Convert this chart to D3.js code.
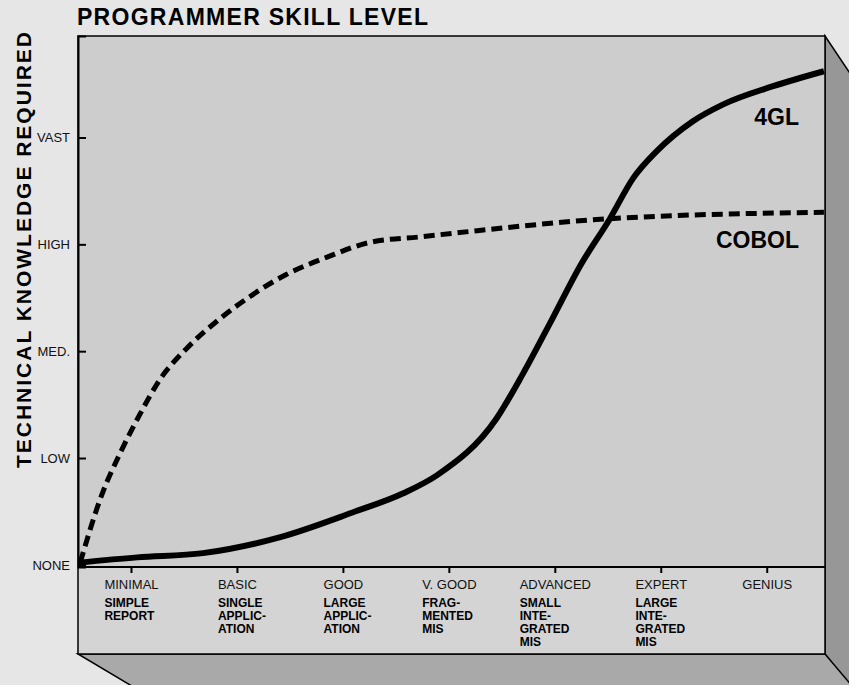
<!DOCTYPE html>
<html>
<head>
<meta charset="utf-8">
<script src="https://cdn.jsdelivr.net/npm/d3@7"></script>
<style>
  body { margin: 0; background: #e6e6e6; }
  svg { display: block; font-family: "Liberation Sans", Arial, sans-serif; }
</style>
</head>
<body>
<svg id="chart"></svg>
<script>
'use strict';

// skill levels along the bottom, with the kind of application under each
var skillLevels = ["MINIMAL", "BASIC", "GOOD", "V. GOOD", "ADVANCED", "EXPERT", "GENIUS"];
var appTypes = [
  ["SIMPLE", "REPORT"],
  ["SINGLE", "APPLIC-", "ATION"],
  ["LARGE", "APPLIC-", "ATION"],
  ["FRAG-", "MENTED", "MIS"],
  ["SMALL", "INTE-", "GRATED", "MIS"],
  ["LARGE", "INTE-", "GRATED", "MIS"],
  []
];
var knowledgeLevels = ["NONE", "LOW", "MED.", "HIGH", "VAST"];

// curves: [skill, knowledge], skill 1 = MINIMAL, knowledge 0 = NONE
var cobol = [
  [0.52, 0.02], [0.73, 0.67], [0.9, 1.05], [1.09, 1.42], [1.27, 1.73], [1.53, 2.03],
  [1.81, 2.28], [2.12, 2.51], [2.47, 2.72], [2.85, 2.88], [3.26, 3.02], [3.73, 3.07],
  [4.1, 3.11], [5.52, 3.24], [7.54, 3.3]
];
var fourGL = [
  [0.5, 0.02], [1.06, 0.07], [1.68, 0.11], [2.41, 0.26], [3.09, 0.49], [3.57, 0.67],
  [3.89, 0.84], [4.45, 1.37], [4.7, 1.79], [4.98, 2.31], [5.24, 2.8], [5.52, 3.24],
  [5.74, 3.62], [5.96, 3.87], [6.3, 4.15], [6.59, 4.31], [7.06, 4.48], [7.54, 4.62]
];

var width = 849,
    height = 685;

var boxLeft = 78, boxRight = 825, boxTop = 36, axisY = 567, bandBottom = 654;

var svg = d3.select("svg#chart")
    .attr("width", width)
    .attr("height", height);

var x = d3.scaleLinear().domain([0.5, 7.55]).range([boxLeft, boxRight]);
var y = d3.scaleLinear().domain([-0.02, 4.95]).range([axisY, boxTop]);

// 3d sides of the box
svg.append("polygon")
    .attr("points", [[boxRight, boxTop], [890, 133], [890, 740], [boxRight, bandBottom]].join(" "))
    .attr("fill", "#979797")
    .attr("stroke", "#000")
    .attr("stroke-width", 1.5);

svg.append("polygon")
    .attr("points", [[boxLeft, bandBottom], [boxRight, bandBottom], [875, 713], [189, 720]].join(" "))
    .attr("fill", "#a9a9a9")
    .attr("stroke", "#000")
    .attr("stroke-width", 1.5);

// plot face and label band
svg.append("rect")
    .attr("x", boxLeft).attr("y", boxTop)
    .attr("width", boxRight - boxLeft).attr("height", axisY - boxTop)
    .attr("fill", "#cdcdcd");

svg.append("rect")
    .attr("x", boxLeft).attr("y", axisY)
    .attr("width", boxRight - boxLeft).attr("height", bandBottom - axisY)
    .attr("fill", "#d4d4d4");

svg.append("rect")
    .attr("x", boxLeft).attr("y", boxTop)
    .attr("width", boxRight - boxLeft).attr("height", bandBottom - boxTop)
    .attr("fill", "none")
    .attr("stroke", "#000")
    .attr("stroke-width", 1.5);

svg.append("line")
    .attr("x1", boxLeft).attr("x2", boxRight)
    .attr("y1", axisY).attr("y2", axisY)
    .attr("stroke", "#000")
    .attr("stroke-width", 2);

// y axis: ticks point into the plot
var yAxis = d3.axisLeft(y)
    .tickValues(d3.range(knowledgeLevels.length))
    .tickFormat(function(d) { return knowledgeLevels[d]; })
    .tickSize(-8)
    .tickPadding(8);

var gy = svg.append("g")
    .attr("transform", "translate(" + boxLeft + ",0)")
    .call(yAxis);
gy.select(".domain").attr("stroke", "#000").attr("stroke-width", 2);
gy.selectAll(".tick line").attr("stroke-width", 2);
gy.selectAll(".tick text")
    .attr("font-size", 13)
    .attr("font-family", "Liberation Sans, Arial, sans-serif")
    .attr("fill", "#111");

// x axis
var xAxis = d3.axisBottom(x)
    .tickValues(d3.range(1, skillLevels.length + 1))
    .tickFormat(function(d) { return skillLevels[d - 1]; })
    .tickSize(6)
    .tickSizeOuter(0)
    .tickPadding(7);

var gx = svg.append("g")
    .attr("transform", "translate(0," + axisY + ")")
    .call(xAxis);
gx.select(".domain").remove();
gx.selectAll(".tick line").attr("stroke-width", 2);
gx.selectAll(".tick text")
    .attr("font-size", 13)
    .attr("font-family", "Liberation Sans, Arial, sans-serif")
    .attr("fill", "#111");

// bold application types, left-aligned with the skill label above
gx.selectAll(".tick").each(function(d, i) {
  var tick = d3.select(this);
  var w = tick.select("text").node().getComputedTextLength();
  var t = tick.append("text")
      .attr("x", -w / 2)
      .attr("y", 40)
      .attr("text-anchor", "start")
      .attr("font-size", 12)
      .attr("font-weight", "bold")
      .attr("font-family", "Liberation Sans, Arial, sans-serif")
      .attr("fill", "#000");
  appTypes[i].forEach(function(s, k) {
    t.append("tspan").attr("x", -w / 2).attr("y", 40 + k * 13).text(s);
  });
});

// curves
var line = d3.line()
    .x(function(d) { return x(d[0]); })
    .y(function(d) { return y(d[1]); })
    .curve(d3.curveMonotoneX);

svg.append("path")
    .datum(cobol)
    .attr("d", line)
    .attr("fill", "none")
    .attr("stroke", "#000")
    .attr("stroke-width", 5)
    .attr("stroke-dasharray", "11,6");

svg.append("path")
    .datum(fourGL)
    .attr("d", line)
    .attr("fill", "none")
    .attr("stroke", "#000")
    .attr("stroke-width", 6)
    .attr("stroke-linejoin", "round");

// series labels
svg.append("text")
    .attr("x", 799).attr("y", 125)
    .attr("text-anchor", "end")
    .attr("font-size", 23)
    .attr("font-weight", "bold")
    .text("4GL");

svg.append("text")
    .attr("x", 799).attr("y", 248)
    .attr("text-anchor", "end")
    .attr("font-size", 23)
    .attr("font-weight", "bold")
    .text("COBOL");

// titles
svg.append("text")
    .attr("x", 77).attr("y", 25)
    .attr("font-size", 23)
    .attr("font-weight", "bold")
    .attr("textLength", 351)
    .attr("lengthAdjust", "spacing")
    .text("PROGRAMMER SKILL LEVEL");

svg.append("text")
    .attr("transform", "translate(31,468) rotate(-90)")
    .attr("font-size", 21)
    .attr("font-weight", "bold")
    .attr("textLength", 436)
    .attr("lengthAdjust", "spacing")
    .text("TECHNICAL KNOWLEDGE REQUIRED");
</script>
</body>
</html>
